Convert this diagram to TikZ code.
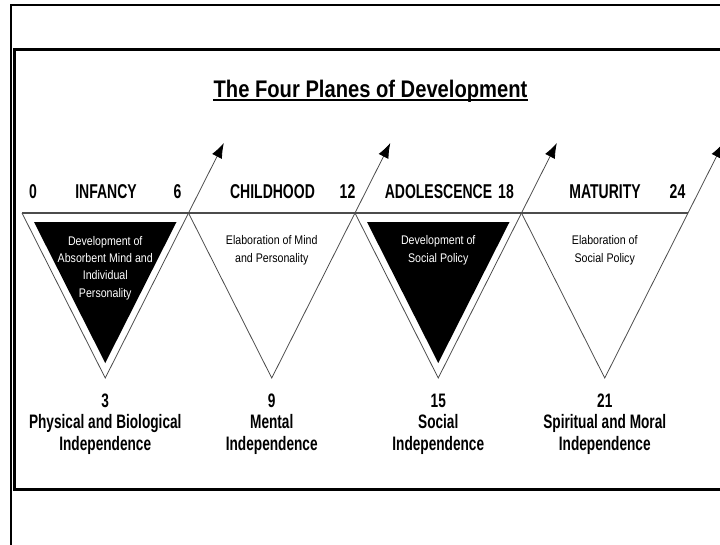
\documentclass[tikz,border=0pt]{standalone}
\usepackage{fontspec}
\setmainfont{Liberation Sans}
\newfontfamily\titlefont{Liberation Sans}[FakeStretch=0.84]
\newfontfamily\narrowfont{Liberation Sans}[FakeStretch=0.7]
\newfontfamily\smallfont{Liberation Sans}[FakeStretch=0.85]
\usetikzlibrary{arrows.meta}

\begin{document}
\begin{tikzpicture}[x=1pt,y=-1pt,
    frame/.style={line width=1.5pt},
    panel/.style={line width=3pt},
    plane/.style={draw=black!70,line width=0.8pt},
    growth/.style={draw=black!70,line width=0.8pt,-{Latex[length=15pt,width=11pt,color=black]}},
    stage/.style={font=\narrowfont\bfseries\fontsize{20}{22}\selectfont,anchor=base,inner sep=0pt},
    inner/.style={font=\smallfont\fontsize{12.5}{17.3}\selectfont,align=center,anchor=base,inner sep=0pt},
    indep/.style={font=\narrowfont\bfseries\fontsize{19.5}{21.5}\selectfont,align=center,anchor=base,inner sep=0pt}]
  \useasboundingbox (0,0) rectangle (720,544);
  \draw[frame] (11,546) -- (11,5) -- (725,5);
  \draw[panel] (730,49) -- (14,49) -- (14,489) -- (730,489);

  \node[inner sep=0pt,anchor=base,font=\titlefont\bfseries\fontsize{24}{26}\selectfont] (title) at (370.5,97) {The Four Planes of Development};
  \draw[line width=1.6pt] ([yshift=-3pt]title.base west) -- ([yshift=-3pt]title.base east);

  \foreach \i in {0,1,2,3} {
    \pgfmathsetmacro\xl{22+166.5*\i}
    \coordinate (l\i) at (\xl,213);
    \coordinate (r\i) at (\xl+166.5,213);
    \coordinate (b\i) at (\xl+83.25,378);
    \coordinate (t\i) at (\xl+201.8,143);
    \ifodd\i\else
      \fill (\xl+12,222) -- (\xl+154.5,222) -- (\xl+83.25,363) -- cycle;
    \fi
    \draw[plane] (l\i) -- (b\i) -- (r\i);
    \draw[growth] (r\i) -- (t\i);
  }
  \draw[plane,line width=1.2pt] (l0) -- (r3);

  \node[stage] (n0) at (33,198) {0};
  \node[stage] (infancy) at (106,198) {INFANCY};
  \node[stage] (n6) at (177.5,198) {6};
  \node[stage] (childhood) at (272.5,198) {CHILDHOOD};
  \node[stage] (n12) at (347.5,198) {12};
  \node[stage] (adolescence) at (438.5,198) {ADOLESCENCE};
  \node[stage] (n18) at (506,198) {18};
  \node[stage] (maturity) at (605,198) {MATURITY};
  \node[stage] (n24) at (677.5,198) {24};

  \node[inner,text=white] (absorbent) at (105.25,297) {Development of\\Absorbent Mind and\\Individual\\Personality};
  \node[inner] (mind) at (271.75,262) {Elaboration of Mind\\and Personality};
  \node[inner,text=white] (policy) at (438.25,262) {Development of\\Social Policy};
  \node[inner] (social) at (604.75,262) {Elaboration of\\Social Policy};

  \node[indep] (physical) at (105.25,450) {3\\Physical and Biological\\Independence};
  \node[indep] (mental) at (271.75,450) {9\\Mental\\Independence};
  \node[indep] (socialind) at (438.25,450) {15\\Social\\Independence};
  \node[indep] (moral) at (604.75,450) {21\\Spiritual and Moral\\Independence};
\end{tikzpicture}
\end{document}
